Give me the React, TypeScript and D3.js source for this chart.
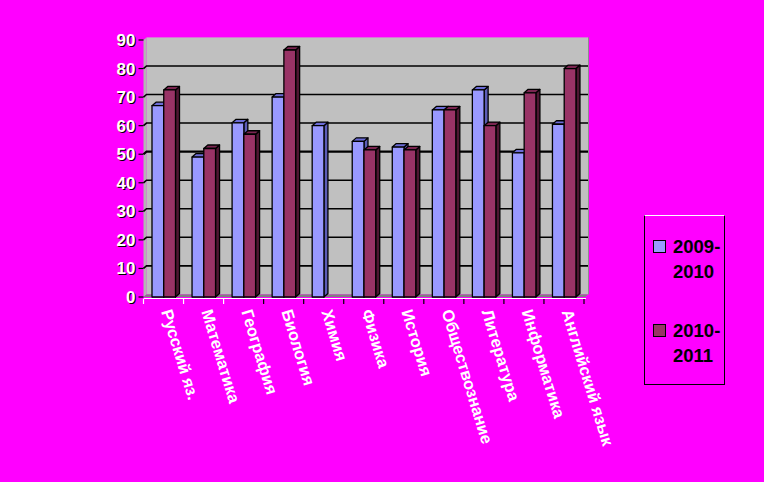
import { useEffect, useRef } from "react"
import * as d3 from "d3"

const categories = [
  "Русский яз.",
  "Математика",
  "География",
  "Биология",
  "Химия",
  "Физика",
  "История",
  "Обществознание",
  "Литература",
  "Информатика",
  "Английский язык",
]
const seriesNames = ["2009-2010", "2010-2011"]
const values2009 = [67, 49, 61, 70, 60, 54.5, 52.5, 65.5, 72.5, 50.5, 60.5]
const values2010 = [72.5, 52, 57, 86.5, 0, 51.5, 51.5, 65.5, 60, 71.5, 80]
const yTicks = [0, 10, 20, 30, 40, 50, 60, 70, 80, 90]

const frontColors = ["#9999ff", "#993366"]
const topColors = ["#6b6bd6", "#7a2550"]
const sideColors = ["#5c5cb8", "#4e1632"]

export default function App() {
  const svgRef = useRef<SVGSVGElement>(null)

  useEffect(() => {
    if (!svgRef.current) return
    const svg = d3.select(svgRef.current)
    svg.selectAll("*").remove()

    const font = "'Liberation Sans', Arial, sans-serif"
    const depthX = 3
    const depthY = -2.6
    const barDX = 4
    const barDY = -3.5

    const x = d3.scaleBand<string>().domain(categories).range([143.5, 584]).padding(0)
    const xs = d3.scaleBand<string>().domain(seriesNames).range([8.5, 32]).padding(0)
    const y = d3.scaleLinear().domain([0, 90]).range([297, 40])

    // background
    svg.append("rect").attr("width", 764).attr("height", 482).attr("fill", "#ff00ff")

    const left = x.range()[0]
    const right = x.range()[1]
    const yTop = y(90)
    const yBot = y(0)

    // side wall
    svg.append("polygon")
      .attr("points", [[left, yTop], [left + depthX, yTop + depthY], [left + depthX, yBot + depthY], [left, yBot]].map(p => p.join(",")).join(" "))
      .attr("fill", "#b4b4b4")

    // back wall
    svg.append("rect")
      .attr("x", left + depthX)
      .attr("y", yTop + depthY)
      .attr("width", right + 4 - left - depthX)
      .attr("height", yBot - yTop)
      .attr("fill", "#c0c0c0")
    svg.append("line")
      .attr("x1", right + 4.5).attr("x2", right + 4.5)
      .attr("y1", yTop + depthY).attr("y2", yBot + depthY)
      .attr("stroke", "#8c8c8c").attr("stroke-width", 1)

    // gridlines
    yTicks.filter(t => t > 0 && t < 90).forEach(t => {
      svg.append("polyline")
        .attr("points", `${left},${y(t)} ${left + depthX},${y(t) + depthY} ${right + 4},${y(t) + depthY}`)
        .attr("fill", "none")
        .attr("stroke", "#000")
        .attr("stroke-width", t === 50 ? 2.2 : 1.6)
    })

    // floor
    svg.append("polygon")
      .attr("points", [[left, yBot], [left + depthX, yBot + depthY], [right + 4, yBot + depthY], [right + 1, yBot]].map(p => p.join(",")).join(" "))
      .attr("fill", "#808080")
    svg.append("line")
      .attr("x1", left).attr("x2", right + 2)
      .attr("y1", yBot + 1.5).attr("y2", yBot + 1.5)
      .attr("stroke", "#ffffff").attr("stroke-width", 1.2)

    // bars
    const allValues = [values2009, values2010]
    categories.forEach((c, i) => {
      seriesNames.forEach((s, k) => {
        const v = allValues[k][i]
        if (v <= 0) return
        const x0 = (x(c) || 0) + (xs(s) || 0)
        const w = xs.bandwidth()
        const y0 = y(v)
        const y1 = y(0)
        const g = svg.append("g")
          .attr("stroke", "#000")
          .attr("stroke-width", 1.3)
          .attr("stroke-linejoin", "round")
        g.append("polygon")
          .attr("points", [[x0 + w, y0], [x0 + w + barDX, y0 + barDY], [x0 + w + barDX, y1 + barDY], [x0 + w, y1]].map(p => p.join(",")).join(" "))
          .attr("fill", sideColors[k])
        g.append("polygon")
          .attr("points", [[x0, y0], [x0 + barDX, y0 + barDY], [x0 + w + barDX, y0 + barDY], [x0 + w, y0]].map(p => p.join(",")).join(" "))
          .attr("fill", topColors[k])
        g.append("rect")
          .attr("x", x0).attr("y", y0)
          .attr("width", w).attr("height", y1 - y0)
          .attr("fill", frontColors[k])
      })
    })

    // y axis ticks and labels
    yTicks.forEach(t => {
      svg.append("line")
        .attr("x1", left - 5).attr("x2", left)
        .attr("y1", y(t)).attr("y2", y(t))
        .attr("stroke", "#000").attr("stroke-width", 1.2)
      const lab = svg.append("g")
        .attr("font-family", font)
        .attr("font-weight", "bold")
        .attr("font-size", 17)
        .attr("text-anchor", "end")
      lab.append("text")
        .attr("x", left - 7).attr("y", y(t) + 1)
        .attr("dy", "0.35em")
        .attr("fill", "#000")
        .text(t)
      lab.append("text")
        .attr("x", left - 8).attr("y", y(t))
        .attr("dy", "0.35em")
        .attr("fill", "#fff")
        .text(t)
    })

    // category ticks
    const edges = categories.map(c => x(c) || 0).concat([right])
    edges.forEach((e, i) => {
      svg.append("line")
        .attr("x1", e).attr("x2", e)
        .attr("y1", yBot + 2).attr("y2", yBot + 7)
        .attr("stroke", i < 3 ? "#fff" : "#000")
        .attr("stroke-width", 1.2)
    })

    // category labels
    categories.forEach(c => {
      const cx = (x(c) || 0) + x.bandwidth() / 2 - 4
      const cy = 312
      svg.append("text")
        .attr("transform", `translate(${cx},${cy}) rotate(73)`)
        .attr("font-family", font)
        .attr("font-weight", "bold")
        .attr("font-size", 16.5)
        .attr("dy", "-0.1em")
        .attr("fill", "#fff")
        .text(c)
    })

    // legend
    const lg = svg.append("g").attr("font-family", font)
    lg.append("rect")
      .attr("x", 644.5).attr("y", 215.5)
      .attr("width", 80).attr("height", 169)
      .attr("fill", "none").attr("stroke", "#000").attr("stroke-width", 1)
    lg.append("line")
      .attr("x1", 644.5).attr("x2", 724.5)
      .attr("y1", 215.5).attr("y2", 215.5)
      .attr("stroke", "#fff").attr("stroke-width", 1)
    const legendY = [240, 324]
    seriesNames.forEach((s, k) => {
      const [a, b] = s.split("-")
      lg.append("rect")
        .attr("x", 653.5).attr("y", legendY[k] + 0.5)
        .attr("width", 12).attr("height", 12)
        .attr("fill", frontColors[k]).attr("stroke", "#000").attr("stroke-width", 1)
      lg.append("text")
        .attr("x", 673).attr("y", legendY[k] + 12.5)
        .attr("font-size", 18.5).attr("font-weight", "bold").attr("fill", "#000")
        .text(a + "-")
      lg.append("text")
        .attr("x", 673).attr("y", legendY[k] + 38)
        .attr("font-size", 18.5).attr("font-weight", "bold").attr("fill", "#000")
        .text(b)
    })
  }, [])

  return (
    <svg
      ref={svgRef}
      width={764}
      height={482}
      style={{ position: "fixed", left: 0, top: 0, display: "block" }}
    />
  )
}
